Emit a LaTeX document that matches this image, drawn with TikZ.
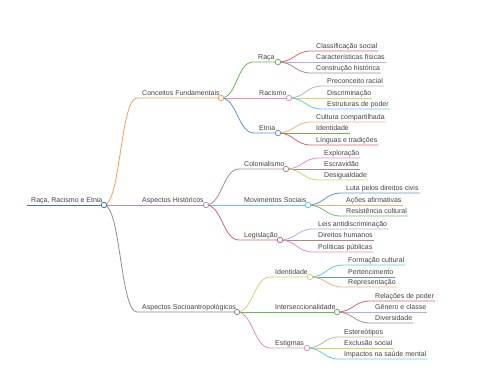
\documentclass[tikz,border=0pt]{standalone}
\usepackage{fontspec}
\setmainfont{Liberation Sans}
\begin{document}
\begin{tikzpicture}[x=1pt,y=-1pt,
  lbl/.style={anchor=south west,inner xsep=0pt,inner ysep=1pt,text height=5pt,text depth=1.5pt,font=\fontsize{7}{8}\selectfont,text=black!75},
  edge/.style={line width=0.8pt},
  dot/.style={circle,fill=white,line width=0.8pt,inner sep=0pt,minimum size=5.5pt}]
\definecolor{cblue}{HTML}{3A78C0}
\definecolor{corange}{HTML}{F5A04A}
\definecolor{cpurple}{HTML}{B38BD9}
\definecolor{cgrey}{HTML}{8C8C8C}
\definecolor{cgreen}{HTML}{6DB553}
\definecolor{cpink}{HTML}{E88BC8}
\definecolor{csteel}{HTML}{5F95CF}
\definecolor{cred}{HTML}{E06070}
\definecolor{cmauve}{HTML}{A88A8E}
\definecolor{ccyan}{HTML}{55D0E0}
\definecolor{cyel}{HTML}{CCD860}
\definecolor{clav}{HTML}{B9ADE6}
\definecolor{clgrey}{HTML}{B4B4B4}
\definecolor{clorange}{HTML}{F8B070}
\definecolor{clgreen}{HTML}{72C072}
\useasboundingbox (0,0) rectangle (480,384);

% circle centres
\coordinate (c0) at (104,205);
\coordinate (c1) at (221,98);
\coordinate (c2) at (206,205);
\coordinate (c3) at (237,312);
\coordinate (c11) at (278,62);
\coordinate (c12) at (289,98);
\coordinate (c13) at (278,133);
\coordinate (c21) at (286,169);
\coordinate (c22) at (308,205);
\coordinate (c23) at (280,240);
\coordinate (c31) at (310,277);
\coordinate (c32) at (337,312);
\coordinate (c33) at (307,348);
\coordinate (rs) at (27,205);

% labels
\node[lbl] (n0) at (31,205) {Raça, Racismo e Etnia};
\node[lbl] (n1) at (142,98) {Conceitos Fundamentais};
\node[lbl] (n2) at (142,205) {Aspectos Históricos};
\node[lbl] (n3) at (142,312) {Aspectos Socioantropológicos};
\node[lbl] (n11) at (258,62) {Raça};
\node[lbl] (n12) at (259,98) {Racismo};
\node[lbl] (n13) at (259,133) {Etnia};
\node[lbl] (n21) at (244,169) {Colonialismo};
\node[lbl] (n22) at (244,205) {Movimentos Sociais};
\node[lbl] (n23) at (244,240) {Legislação};
\node[lbl] (n31) at (275,277) {Identidade};
\node[lbl] (n32) at (275,312) {Interseccionalidade};
\node[lbl] (n33) at (275,348) {Estigmas};

\node[lbl] (l111) at (316,51) {Classificação social};
\node[lbl] (l112) at (316,62) {Características físicas};
\node[lbl] (l113) at (316,73) {Construção histórica};
\node[lbl] (l121) at (327,86) {Preconceito racial};
\node[lbl] (l122) at (327,98) {Discriminação};
\node[lbl] (l123) at (327,109) {Estruturas de poder};
\node[lbl] (l131) at (316,122) {Cultura compartilhada};
\node[lbl] (l132) at (316,133) {Identidade};
\node[lbl] (l133) at (316,145) {Línguas e tradições};
\node[lbl] (l211) at (324,158) {Exploração};
\node[lbl] (l212) at (324,169) {Escravidão};
\node[lbl] (l213) at (324,180) {Desigualdade};
\node[lbl] (l221) at (346,193) {Luta pelos direitos civis};
\node[lbl] (l222) at (346,205) {Ações afirmativas};
\node[lbl] (l223) at (346,216) {Resistência cultural};
\node[lbl] (l231) at (318,229) {Leis antidiscriminação};
\node[lbl] (l232) at (318,240) {Direitos humanos};
\node[lbl] (l233) at (318,252) {Políticas públicas};
\node[lbl] (l311) at (348,265) {Formação cultural};
\node[lbl] (l312) at (348,277) {Pertencimento};
\node[lbl] (l313) at (348,287) {Representação};
\node[lbl] (l321) at (375,301) {Relações de poder};
\node[lbl] (l322) at (375,312) {Gênero e classe};
\node[lbl] (l323) at (375,323) {Diversidade};
\node[lbl] (l331) at (344,337) {Estereótipos};
\node[lbl] (l332) at (344,348) {Exclusão social};
\node[lbl] (l333) at (344,359) {Impactos na saúde mental};

% root line
\draw[edge,cblue,line width=1pt] (rs) -- (c0);

% level 1
\draw[edge,corange] (c0) .. controls +(16.5,0) and +(-16.5,0) .. ([xshift=-5pt]n1.south west) -- (c1);
\draw[edge,cpurple] (c0) -- (c2);
\draw[edge,cgrey] (c0) .. controls +(16.5,0) and +(-16.5,0) .. ([xshift=-5pt]n3.south west) -- (c3);

% level 2
\draw[edge,cgreen] (c1) .. controls +(16,0) and +(-16,0) .. ([xshift=-5pt]n11.south west) -- (c11);
\draw[edge,cpink] (c1) -- (c12);
\draw[edge,csteel] (c1) .. controls +(16,0) and +(-16,0) .. ([xshift=-5pt]n13.south west) -- (c13);
\draw[edge,cmauve] (c2) .. controls +(16,0) and +(-16,0) .. ([xshift=-5pt]n21.south west) -- (c21);
\draw[edge,ccyan] (c2) -- (c22);
\draw[edge,cred] (c2) .. controls +(16,0) and +(-16,0) .. ([xshift=-5pt]n23.south west) -- (c23);
\draw[edge,cyel] (c3) .. controls +(16,0) and +(-16,0) .. ([xshift=-5pt]n31.south west) -- (c31);
\draw[edge,cgreen] (c3) -- (c32);
\draw[edge,cpink] (c3) .. controls +(16,0) and +(-16,0) .. ([xshift=-5pt]n33.south west) -- (c33);

% level 3
\foreach \p/\a/\b/\c/\ca/\cb/\cc in {
  11/111/112/113/cred/clav/cmauve,
  12/121/122/123/clgrey/cyel/ccyan,
  13/131/132/133/clorange/cgreen/cred,
  21/211/212/213/cpink/cmauve/cyel,
  22/221/222/223/csteel/clorange/clgreen,
  23/231/232/233/clav/cmauve/cpink,
  31/311/312/313/ccyan/csteel/clorange,
  32/321/322/323/cred/clav/cmauve,
  33/331/332/333/clgrey/cyel/ccyan}{
  \draw[edge,\ca] (c\p) .. controls +(16,0) and +(-16,0) .. ([xshift=-5pt]l\a.south west) -- ([xshift=1pt]l\a.south east);
  \draw[edge,\cb] (c\p) -- ([xshift=1pt]l\b.south east);
  \draw[edge,\cc] (c\p) .. controls +(16,0) and +(-16,0) .. ([xshift=-5pt]l\c.south west) -- ([xshift=1pt]l\c.south east);
}

% circles
\node[dot,draw=cblue] (d0) at (c0) {};
\node[dot,draw=corange] (d1) at (c1) {};
\node[dot,draw=cpurple] (d2) at (c2) {};
\node[dot,draw=cgrey] (d3) at (c3) {};
\node[dot,draw=cgreen] (d11) at (c11) {};
\node[dot,draw=cpink] (d12) at (c12) {};
\node[dot,draw=csteel] (d13) at (c13) {};
\node[dot,draw=cmauve] (d21) at (c21) {};
\node[dot,draw=ccyan] (d22) at (c22) {};
\node[dot,draw=cred] (d23) at (c23) {};
\node[dot,draw=cyel] (d31) at (c31) {};
\node[dot,draw=cgreen] (d32) at (c32) {};
\node[dot,draw=cpink] (d33) at (c33) {};
\end{tikzpicture}
\end{document}
